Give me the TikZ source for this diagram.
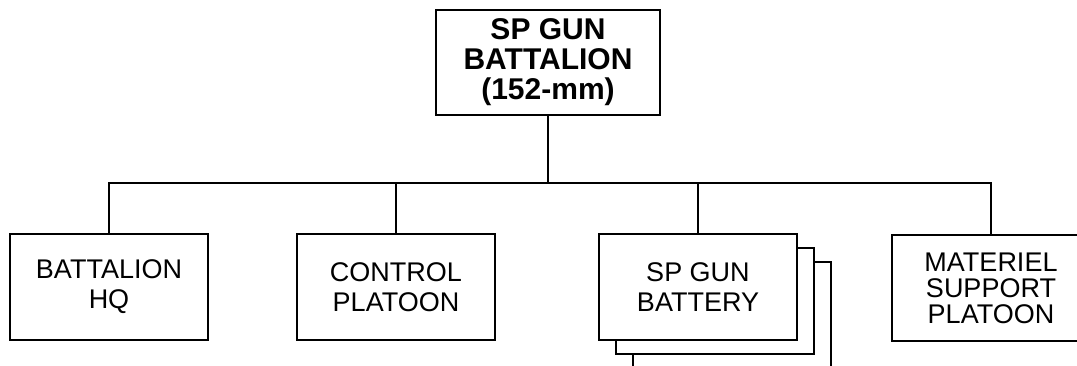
\documentclass[tikz,border=0pt]{standalone}
\usepackage{fontspec}
\setmainfont{Liberation Sans}
\usepackage{tikz}

\begin{document}
\begin{tikzpicture}[x=1pt,y=-1pt,line width=2.5pt,
  every node/.style={font=\fontsize{27}{30}\selectfont},
  unit/.style={draw,fill=white,align=center,minimum width=198pt,minimum height=106pt,inner sep=0pt}]
\clip (0,0) rectangle (1077,365);
\node[unit,minimum width=224pt,minimum height=105pt,font=\bfseries\fontsize{30}{30}\selectfont] (bn) at (548,62.5) {SP GUN\\BATTALION\\(152-mm)};
\node[unit] (hq) at (109,287) {BATTALION\\HQ};
\node[unit] (ctrl) at (396,287) {CONTROL\\PLATOON};
\node[unit] (btryc) at (732,315) {};
\node[unit] (btryb) at (715,301) {};
\node[unit] (btry) at (698,287) {SP GUN\\BATTERY};
\node[unit,font=\fontsize{27}{26}\selectfont] (matl) at (991,288) {MATERIEL\\SUPPORT\\PLATOON};
\coordinate (bus) at (548,183);
\draw (bn.south) -- (bn.south |- bus);
\draw (hq.north) |- (matl.north |- bus) -- (matl.north);
\draw (ctrl.north) -- (ctrl.north |- bus);
\draw (btry.north) -- (btry.north |- bus);
\end{tikzpicture}
\end{document}
